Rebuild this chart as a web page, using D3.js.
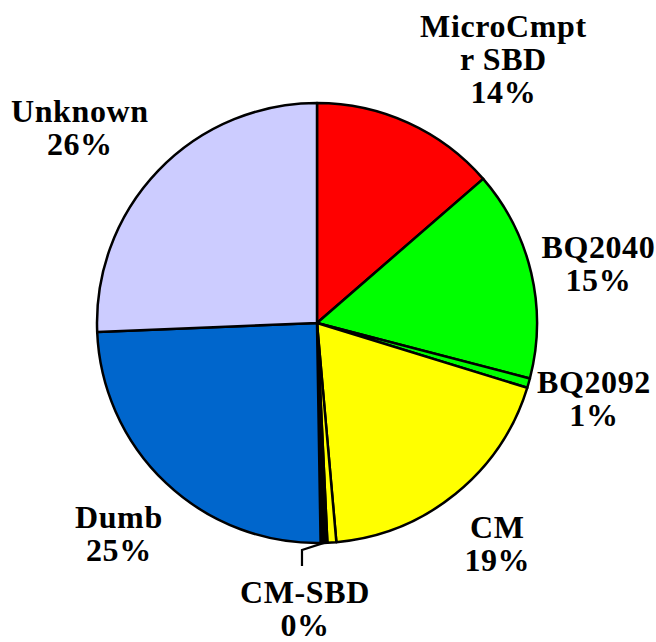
<!DOCTYPE html>
<html>
<head>
<meta charset="utf-8">
<script src="https://cdn.jsdelivr.net/npm/d3@7"></script>
<style>
  html, body { margin: 0; padding: 0; background: #fff; }
  svg { display: block; }
</style>
</head>
<body>
<svg id="chart" width="656" height="642"></svg>
<script>
// ---- data (clockwise from 12 o'clock) ----
const categories = ["MicroCmptr SBD", "BQ2040", "BQ2092", "CM", "", "CM-SBD", "Dumb", "Unknown"];
const values     = [13.6, 15.4, 0.7, 18.8, 0.65, 0.49, 24.56, 25.6];
const labelLines = [["MicroCmpt", "r  SBD", "14%"], ["BQ2040", "15%"], ["BQ2092", "1%"], ["CM", "19%"], [], ["CM-SBD", "0%"], ["Dumb", "25%"], ["Unknown", "26%"]];
const colors     = ["#FF0000", "#00FF00", "#00FF00", "#FFFF00", "#FFFF00", "#000000", "#0066CC", "#CCCCFF"];

const W = 656, H = 642;
const cx = 317, cy = 323, R = 220;
const labelRadius = 290;
// per-label nudges from the radial anchor point
const labelDx = [66, -1, -2, -2, 0, 0, 1, -28];
const labelDy = [0, 7, -3, -5, 0, 0, 0, 6];

const svg = d3.select("#chart");
svg.append("rect").attr("width", W).attr("height", H).attr("fill", "#fff");
const g = svg.append("g").attr("transform", `translate(${cx},${cy})`);

const data = categories.map((c, i) => ({ name: c, value: values[i], i }));
const pie = d3.pie().value(d => d.value).sort(null);
const arcs = pie(data);
const arc = d3.arc().innerRadius(0).outerRadius(R);
const labelArc = d3.arc().innerRadius(labelRadius).outerRadius(labelRadius);

g.selectAll("path.slice")
  .data(arcs)
  .join("path")
  .attr("class", "slice")
  .attr("d", arc)
  .attr("fill", d => colors[d.data.i])
  .attr("stroke", "#000")
  .attr("stroke-width", 2.5)
  .attr("stroke-linejoin", "round");

// clip for the CM label (its right edge is cut in the original)
svg.append("defs").append("clipPath").attr("id", "cmclip")
  .append("rect").attr("x", -cx).attr("y", -cy).attr("width", 527).attr("height", H);

const fontSize = 32, lineH = 33, capHalf = 10.5;
const text = g.append("g")
  .attr("font-family", "'Liberation Serif', 'Times New Roman', serif")
  .attr("font-weight", "bold")
  .attr("font-size", fontSize)
  .attr("letter-spacing", "0.6px")
  .attr("fill", "#000")
  .attr("text-anchor", "middle");

arcs.forEach(a => {
  const i = a.data.i;
  const lines = labelLines[i];
  if (!lines.length) return;
  const mid = (a.startAngle + a.endAngle) / 2;
  let x, firstBase;
  if (a.data.name === "CM-SBD") {
    const px = Math.sin(mid) * R, py = -Math.cos(mid) * R;
    const bx = px - 22, by = R + 7;
    g.append("polyline")
      .attr("points", `${px},${py} ${bx},${by} ${bx},${by + 16}`)
      .attr("fill", "none").attr("stroke", "#000").attr("stroke-width", 2.2);
    x = bx + 3;
    firstBase = by + 53;
  } else {
    const [ax, ay] = labelArc.centroid(a);
    x = ax + labelDx[i];
    const yc = ay + labelDy[i];
    firstBase = yc + capHalf - (lines.length - 1) * lineH / 2;
  }
  const t = text.append("text");
  if (a.data.name === "CM") t.attr("clip-path", "url(#cmclip)");
  lines.forEach((ln, k) => {
    t.append("tspan").attr("x", x).attr("y", firstBase + k * lineH).text(ln);
  });
});
</script>
</body>
</html>
